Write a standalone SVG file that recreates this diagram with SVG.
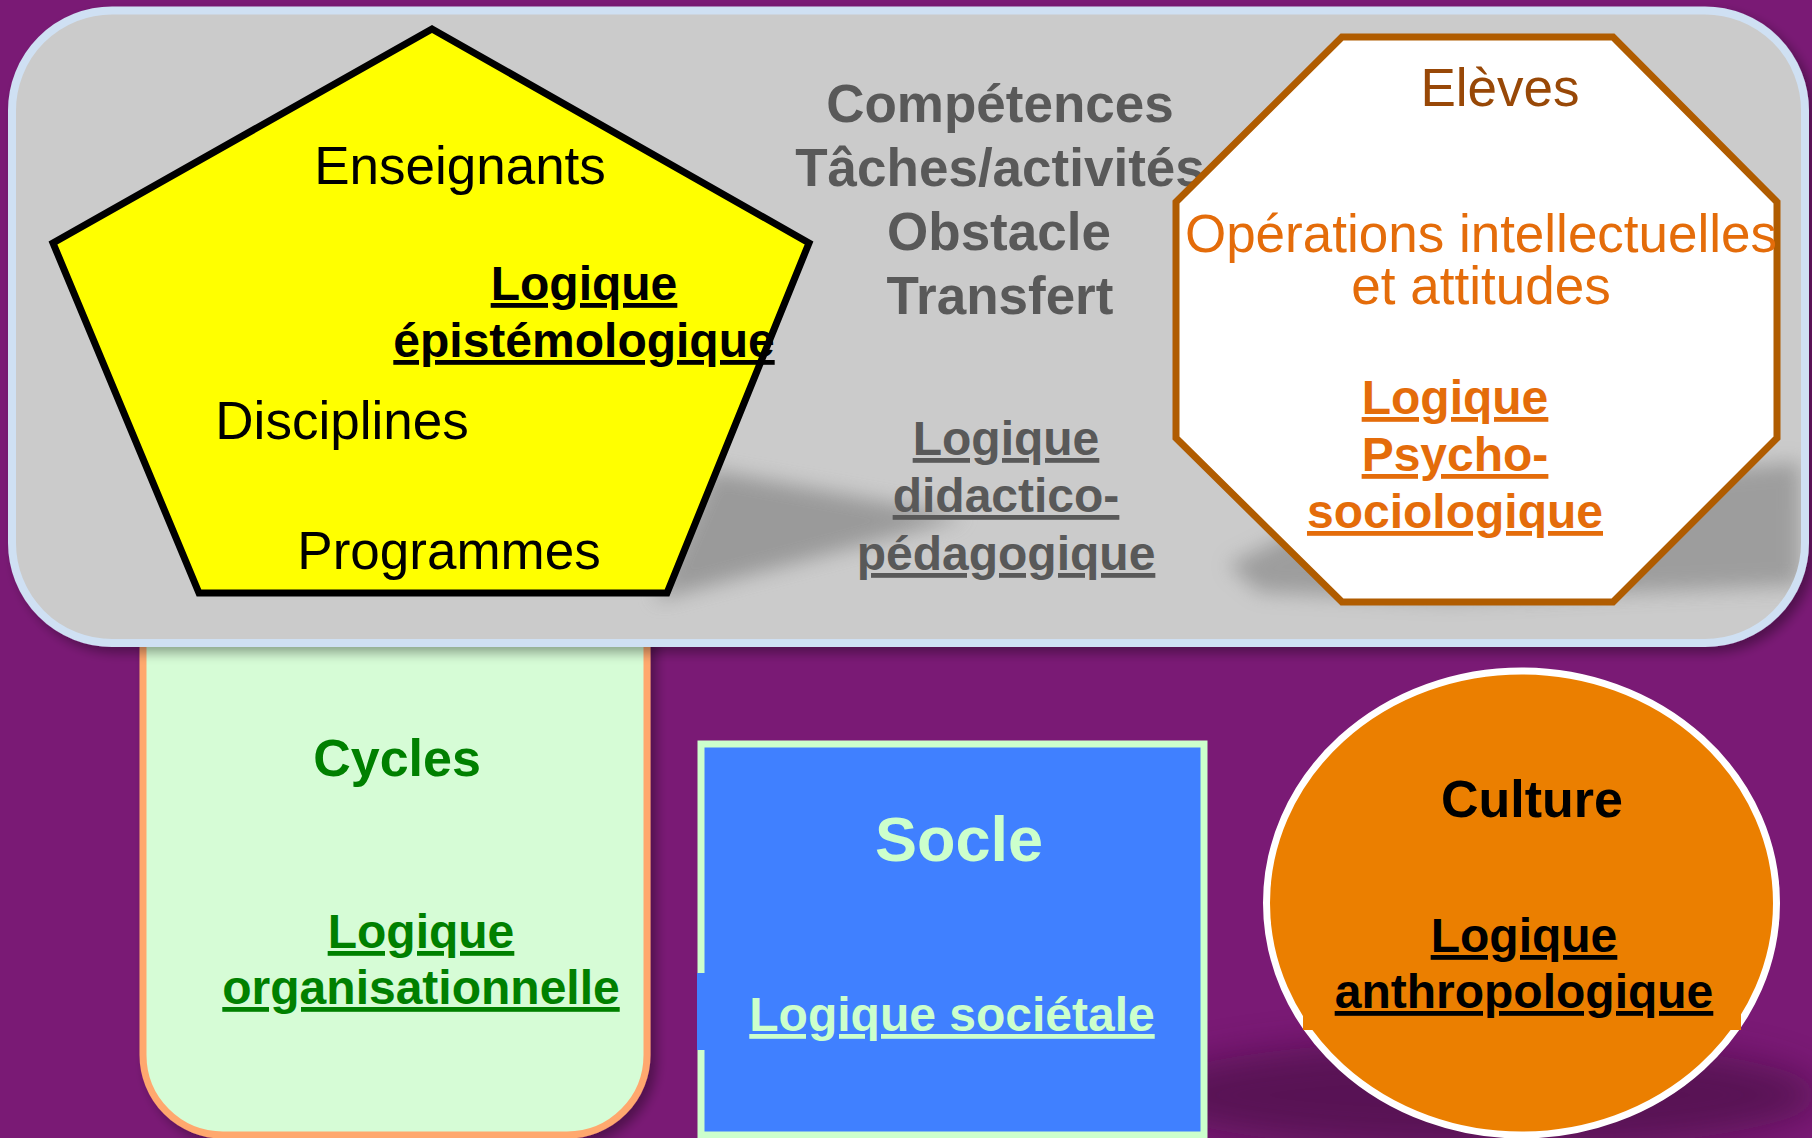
<svg xmlns="http://www.w3.org/2000/svg" width="1812" height="1138" viewBox="0 0 1812 1138">
<defs>
<style>
text{font-family:"Liberation Sans",Arial,sans-serif;text-anchor:middle}
.r52{font-size:53px}
.b48{font-size:48px;font-weight:bold;text-decoration:underline}
.g53{font-size:53px;font-weight:bold;fill:#595959}
</style>
<filter id="ds" x="-10%" y="-10%" width="125%" height="125%">
<feGaussianBlur in="SourceAlpha" stdDeviation="6"/>
<feOffset dx="6" dy="6"/>
<feComponentTransfer><feFuncA type="linear" slope="0.35"/></feComponentTransfer>
<feMerge><feMergeNode/><feMergeNode in="SourceGraphic"/></feMerge>
</filter>
<filter id="blur" x="-20%" y="-50%" width="140%" height="200%"><feGaussianBlur stdDeviation="10"/></filter>
<filter id="blur2" x="-20%" y="-80%" width="140%" height="260%"><feGaussianBlur stdDeviation="18"/></filter>
<clipPath id="grayClip"><rect x="16" y="14" width="1785" height="625" rx="96"/></clipPath>
</defs>
<rect width="1812" height="1138" fill="#7A1A75"/>
<ellipse cx="1480" cy="1095" rx="340" ry="55" fill="#3E0B3A" opacity="0.55" filter="url(#blur2)"/>
<g id="cycles">
<path d="M143,600 V1055 A80,80 0 0 0 223,1135 H567 A80,80 0 0 0 647,1055 V600 Z" fill="#D6FCD6" stroke="#FFA86E" stroke-width="7" filter="url(#ds)"/>
<text x="397" y="776" style="font-size:52px;font-weight:bold" fill="#008000">Cycles</text>
<text x="421" y="948" class="b48" fill="#008000">Logique</text>
<text x="421" y="1004" class="b48" fill="#008000">organisationnelle</text>
</g>
<g id="panel">
<rect x="12" y="10.5" width="1793" height="632.5" rx="100" fill="#CBCBCB" stroke="#CFE0F3" stroke-width="8" filter="url(#ds)"/>
<g clip-path="url(#grayClip)">
<polygon points="712,470 655,600 965,517" fill="#8E8E8E" opacity="0.8" filter="url(#blur)"/>
<polygon points="1228,565 1350,505 1800,462 1800,585 1450,600 1260,592" fill="#8E8E8E" opacity="0.75" filter="url(#blur)"/>
</g>
</g>
<g id="enseignants">
<polygon points="432,29 809,243 667,593 199,593 53,243" fill="#FFFF00" stroke="#000" stroke-width="7" stroke-linejoin="miter"/>
<text x="460" y="184" class="r52">Enseignants</text>
<text x="584" y="300" class="b48">Logique</text>
<text x="584" y="357" class="b48">épistémologique</text>
<text x="342" y="439" class="r52">Disciplines</text>
<text x="449" y="569" class="r52">Programmes</text>
</g>
<g id="didactique">
<text x="1000" y="122" class="g53">Compétences</text>
<text x="1000" y="186" class="g53">Tâches/activités</text>
<text x="999" y="250" class="g53">Obstacle</text>
<text x="1000" y="314" class="g53">Transfert</text>
<text x="1006" y="455" class="b48" fill="#595959">Logique</text>
<text x="1006" y="512" class="b48" fill="#595959">didactico-</text>
<text x="1006" y="570" class="b48" fill="#595959">pédagogique</text>
</g>
<g id="eleves">
<polygon points="1342,37 1613,37 1777,202 1777,438 1613,602 1342,602 1176,438 1176,202" fill="#FFFFFF" stroke="#B05C00" stroke-width="7"/>
<text x="1500" y="106" class="r52" fill="#984807">Elèves</text>
<text x="1481" y="252" class="r52" fill="#E46C0A">Opérations intellectuelles</text>
<text x="1481" y="304" class="r52" fill="#E46C0A">et attitudes</text>
<text x="1455" y="414" class="b48" fill="#E46C0A">Logique</text>
<text x="1455" y="471" class="b48" fill="#E46C0A">Psycho-</text>
<text x="1455" y="528" class="b48" fill="#E46C0A">sociologique</text>
</g>
<g id="socle">
<rect x="701" y="744" width="503" height="391" fill="#4080FF" stroke="#CCFFCC" stroke-width="7"/>
<rect x="697" y="973" width="9" height="77" fill="#4080FF"/>
<text x="959" y="861" style="font-size:63px;font-weight:bold" fill="#CCFFCC">Socle</text>
<text x="952" y="1031" class="b48" fill="#CCFFCC">Logique sociétale</text>
</g>
<g id="culture">
<ellipse cx="1521.5" cy="903" rx="255" ry="232" fill="#EB7F00" stroke="#FFFFFF" stroke-width="7"/>
<rect x="1303" y="985" width="438" height="45" fill="#EB7F00"/>
<text x="1532" y="817" style="font-size:52px;font-weight:bold" fill="#000">Culture</text>
<text x="1524" y="952" class="b48" fill="#000">Logique</text>
<text x="1524" y="1008" class="b48" fill="#000">anthropologique</text>
</g>
<g id="connectors"></g>
</svg>
